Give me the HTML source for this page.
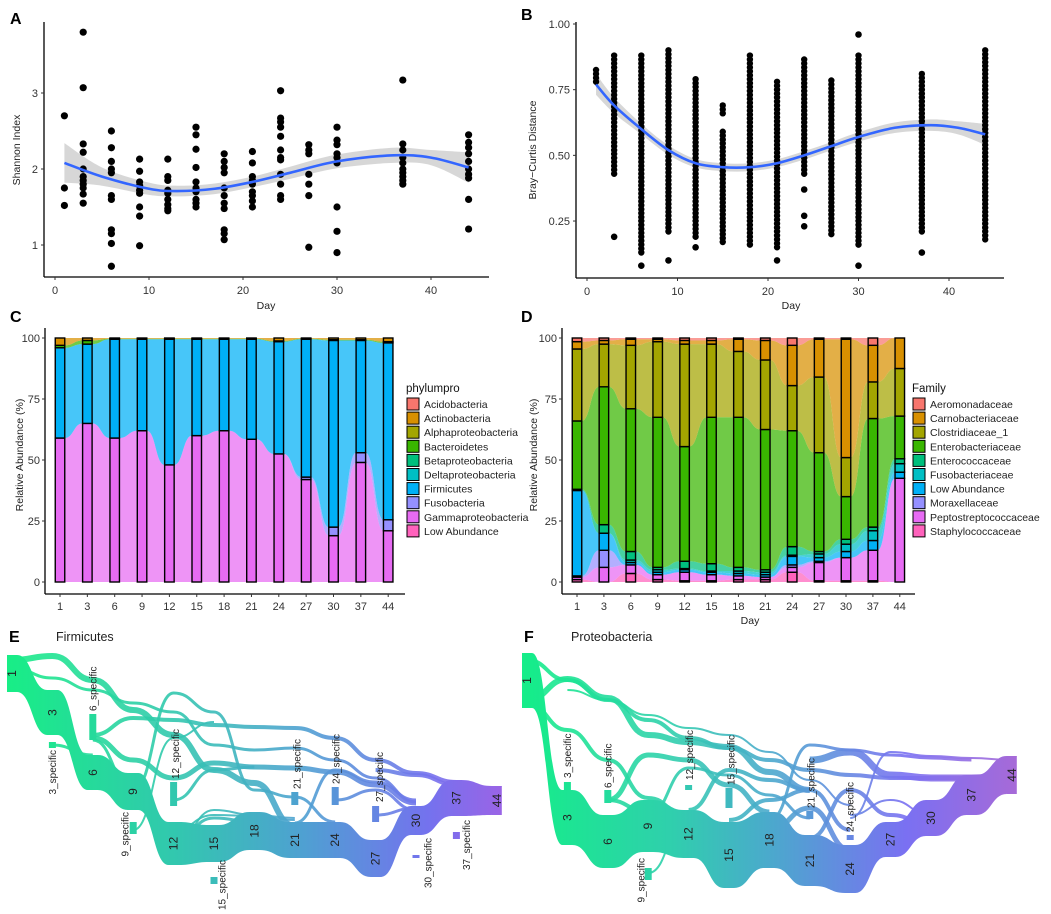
<!DOCTYPE html>
<html><head><meta charset="utf-8"><style>
html,body{margin:0;padding:0;background:#fff;}
svg{display:block;font-family:"Liberation Sans",sans-serif;}
</style></head><body>
<svg id="fig" width="1051" height="914" viewBox="0 0 1051 914" xmlns="http://www.w3.org/2000/svg">
<defs>
<linearGradient id="gE" gradientUnits="userSpaceOnUse" x1="7" y1="0" x2="502" y2="0">
<stop offset="0" stop-color="#18ee86"/><stop offset="0.35" stop-color="#33c6b0"/><stop offset="0.6" stop-color="#4fa0d2"/><stop offset="0.85" stop-color="#7472ee"/><stop offset="1" stop-color="#9a64e6"/></linearGradient>
<linearGradient id="gF" gradientUnits="userSpaceOnUse" x1="520" y1="0" x2="1015" y2="0">
<stop offset="0" stop-color="#14ee88"/><stop offset="0.3" stop-color="#2fd0ac"/><stop offset="0.5" stop-color="#4aaacc"/><stop offset="0.78" stop-color="#7a70f2"/><stop offset="1" stop-color="#a66ad8"/></linearGradient>
</defs>
<g id="pA"></g>
<g id="pB"></g>
<g id="pC"></g>
<g id="pD"></g>
<g id="pE"></g>
<g id="pF"></g>
</svg>
<script>
// ---------- DATA ----------
const daysA=[1,3,6,9,12,15,18,21,24,27,30,37,44];
const shannonVals=[
[2.7,1.75,1.52],
[3.8,3.07,2.33,2.22,2.0,1.9,1.85,1.8,1.75,1.67,1.55],
[2.5,2.28,2.1,2.0,1.95,1.65,1.6,1.2,1.15,1.02,0.72],
[2.13,1.97,1.83,1.78,1.72,1.68,1.5,1.38,0.99],
[2.13,1.9,1.85,1.72,1.68,1.6,1.53,1.48,1.45],
[2.55,2.45,2.26,2.02,1.83,1.75,1.7,1.6,1.55,1.5],
[2.2,2.1,2.02,1.95,1.75,1.65,1.55,1.48,1.2,1.15,1.07],
[2.23,2.08,1.9,1.85,1.8,1.7,1.65,1.58,1.5],
[3.03,2.67,2.62,2.55,2.43,2.25,2.15,2.12,1.93,1.8,1.65,1.6],
[2.32,2.25,2.2,1.93,1.8,1.65,0.97],
[2.55,2.38,2.32,2.2,2.15,2.08,1.5,1.18,0.9],
[3.17,2.33,2.25,2.15,2.08,2.0,1.95,1.9,1.85,1.8],
[2.45,2.35,2.28,2.2,2.1,2.0,1.93,1.88,1.6,1.21]];
const shannonFitDays=[1,5,10,13,17,21,25,30,36,40,44];
const shannonFit=[2.08,1.9,1.74,1.71,1.74,1.83,1.95,2.1,2.18,2.15,2.02];
const shannonSE=[0.26,0.12,0.08,0.07,0.07,0.07,0.08,0.09,0.1,0.1,0.2];
const shannonTicks=[1,2,3];
const dayTicks=[0,10,20,30,40];
const brayRuns=[[[0.78,0.83]],[[0.43,0.89]],[[0.13,0.88]],[[0.21,0.9]],[[0.19,0.8]],[[0.17,0.6],[0.66,0.69]],[[0.16,0.89]],[[0.15,0.78]],[[0.43,0.87]],[[0.2,0.79]],[[0.16,0.89]],[[0.21,0.82]],[[0.18,0.9]]];
const brayOut=[[],[0.19],[0.08],[0.1],[0.15],[],[],[0.1],[0.23,0.27,0.37],[],[0.08,0.96],[0.13],[]];
const brayFitDays=[1,3,6,9,12,15,18,21,24,27,30,34,38,41,44];
const brayFit=[0.77,0.69,0.6,0.52,0.47,0.455,0.455,0.47,0.5,0.535,0.57,0.605,0.615,0.605,0.58];
const braySE=[0.04,0.03,0.02,0.018,0.016,0.015,0.015,0.015,0.016,0.016,0.018,0.02,0.022,0.025,0.04];
const brayTicks=[0.25,0.5,0.75,1.0];
const catDays=["1","3","6","9","12","15","18","21","24","27","30","37","44"];
const phylaNames=["Acidobacteria","Actinobacteria","Alphaproteobacteria","Bacteroidetes","Betaproteobacteria","Deltaproteobacteria","Firmicutes","Fusobacteria","Gammaproteobacteria","Low Abundance"];
const phylaColors=["#f8766d","#d89000","#a3a500","#39b600","#00bf7d","#00bfc4","#00b0f6","#9590ff","#e76bf3","#ff62bc"];
const cLow=[0,0,0,0,0,0,0,0,0,0,0,0,0];
const cGamma=[59,65,59,62,48,60,62,58.5,52.5,42,19,49,21];
const cFuso=[0,0,0,0,0,0,0,0,0,1,3.5,4,4.5];
const cFirm=[37,32.5,40.5,37.5,51.5,39.5,37.5,41,46,56.5,76.5,46,72.5];
const cDelta=[0,0,0,0,0,0,0,0,0,0,0,0,0];
const cBeta=[0,0,0,0,0,0,0,0,0,0,0,0,0];
const cBacter=[1,1.5,0.2,0.2,0.2,0.2,0.2,0.2,0.3,0.2,0.3,0.3,0.5];
const cAlpha=[0,0,0,0,0,0,0,0,0,0,0,0,0];
const cActino=[3,1,0.3,0.3,0.3,0.3,0.3,0.3,1.2,0.3,0.7,0.7,1.5];
const cAcido=[0,0,0,0,0,0,0,0,0,0,0,0,0];
const pctTicks=[0,25,50,75,100];
const famNames=["Aeromonadaceae","Carnobacteriaceae","Clostridiaceae_1","Enterobacteriaceae","Enterococcaceae","Fusobacteriaceae","Low Abundance","Moraxellaceae","Peptostreptococcaceae","Staphylococcaceae"];
const famColors=["#f8766d","#d89000","#a3a500","#39b600","#00bf7d","#00bfc4","#00b0f6","#9590ff","#e76bf3","#ff62bc"];
const dStaph=[1,0,3.5,1,0.5,0.5,1,1,4,0.5,0.5,0.5,0];
const dPepto=[1,6,3.5,2,3.5,2.5,1.5,1,2,7.5,9.5,12.5,42.5];
const dMorax=[0.5,7,0,0,0,0,0,0,1,0.5,0,0,0];
const dLow=[35,7,1,1,1,1,1,1,3.5,1.5,2.5,4,2.5];
const dFuso=[0,0,1,1,0.5,0.5,1,1,0.5,1.5,3,4,3.5];
const dEntc=[0.5,3.5,3.5,1,3,3,1.5,1,3.5,1,2,1.5,2];
const dEntb=[28,56.5,58.5,61.5,47,60,61.5,57.5,47.5,40.5,17.5,44.5,17.5];
const dClost=[29.5,17.5,26,31,42,30,27,28.5,18.5,31,16,15,19.5];
const dCarno=[3,1.5,2.5,1,1.5,1.5,5,8,16.5,15.5,48.5,15,12.5];
const dAero=[1.5,1,0.5,0.5,1,1,0.5,1,3,0.5,0.5,3,0];
const eMain=[[0,655,692],[1,690,735],[2,755,790],[3,773,810],[4,822,865],[5,825,862],[6,812,850],[7,822,858],[8,822,858],[9,840,877],[10,806,835],[11,780,816],[12,786,815]];
const fMain=[[0,653,708],[1,790,845],[2,815,868],[3,800,852],[4,810,858],[5,822,888],[6,812,868],[7,835,886],[8,845,893],[9,822,857],[10,800,836],[11,775,815],[12,756,794]];
const eLinks=[
 {w:6,p:[[0,660],[1,656],[2,680],[3,710],[4,735],[5,770],[6,783],[7,826]]},
 {w:3,p:[[0,668],[1,678],[2,690],[3,703],[4,712],[5,745],[6,750],[7,748],[8,760],[9,778],[10,802]]},
 {w:4,p:[[2,735],[3,718],[4,720],[5,725],[6,727],[7,728],[8,738],[9,760],[10,773],[11,782]]},
 {w:5,p:[[2,738],[3,760],[4,778],[5,763],[6,767],[7,768],[8,772],[9,785],[10,803]]},
 {w:3,p:[[3,790],[4,693],[5,712],[6,790],[7,797],[8,822]]},
 {w:2,p:[[3,795],[4,830],[5,815],[6,816],[7,820]]},
 {w:3,p:[[1,745],[2,755]]},
 {w:3,p:[[2,740],[3,790]]},
 {w:2,p:[[3,830],[4,738],[5,722]]},
 {w:3,p:[[4,800],[5,770],[6,767]]},
 {w:3,p:[[7,823],[8,770],[9,782],[10,800]]},
 {w:3,p:[[8,800],[9,790],[10,810]]},
 {w:3,p:[[9,815],[10,808]]},
 {w:2,p:[[4,845],[5,810],[6,815],[7,818]]},
 {w:4,p:[[9,770],[10,775],[11,785],[12,790]]},
 {w:6,p:[[10,826],[11,790]]},
 {w:3,p:[[4,840],[5,818],[6,822]]}];
const fLinks=[
 {w:4,p:[[0,660],[1,680],[2,700],[3,720],[4,738],[5,748],[6,760],[7,770],[8,775],[9,778],[10,778],[11,778],[12,765]]},
 {w:6,p:[[0,700],[1,679],[2,698],[3,735],[4,742],[5,747],[6,772],[7,790]]},
 {w:4,p:[[0,703],[1,730],[2,760],[3,798],[4,818]]},
 {w:2,p:[[1,690],[2,700],[3,715],[4,728],[5,735],[6,752],[7,780],[8,805]]},
 {w:5,p:[[2,800],[3,755],[4,760],[5,785],[6,812]]},
 {w:3,p:[[3,815],[4,768],[5,775],[6,795],[7,818]]},
 {w:4,p:[[4,810],[5,770],[6,780],[7,790],[8,830]]},
 {w:3,p:[[6,820],[7,745],[8,750],[9,755],[10,758],[11,760]]},
 {w:7,p:[[7,760],[8,752],[9,775],[10,778],[11,778],[12,776]]},
 {w:2,p:[[8,818],[9,752],[10,756],[11,758],[12,760]]},
 {w:2,p:[[8,815],[9,800],[10,815],[11,805]]},
 {w:4,p:[[7,838],[8,790],[9,815],[10,825]]},
 {w:5,p:[[6,830],[7,808],[8,850]]},
 {w:4,p:[[5,820],[6,800],[7,790]]},
 {w:2,p:[[3,873],[4,815]]},
 {w:3,p:[[9,825],[10,810],[11,790]]},
 {w:5,p:[[1,795],[2,822]]},
 {w:4,p:[[2,800],[3,812]]}];
const eSpec=[["3_specific",1,742,748,"down",0,750],["6_specific",2,714,740,"up",0,711],["9_specific",3,822,834,"down",-8,812],["12_specific",4,782,806,"up",2,779],["15_specific",5,877,884,"down",8,860],["21_specific",7,792,805,"up",2,789],["24_specific",8,787,805,"up",1,784],["27_specific",9,806,822,"up",4,802],["30_specific",10,855,858,"down",12,838],["37_specific",11,832,839,"down",10,820]];
const fSpec=[["3_specific",1,782,802,"up",0,778],["6_specific",2,790,803,"up",0,788],["9_specific",3,868,880,"down",-7,858],["12_specific",4,785,790,"up",1,780],["15_specific",5,788,808,"up",2,785],["21_specific",7,811,819,"up",1,808],["24_specific",8,835,840,"up",0,832]];

const NS="http://www.w3.org/2000/svg";
function mk(parent,tag,attrs,text){const e=document.createElementNS(NS,tag);for(const k in attrs)e.setAttribute(k,attrs[k]);if(text!==undefined)e.textContent=text;parent.appendChild(e);return e;}
function catmull(pts){let d="M"+pts[0][0]+","+pts[0][1];for(let i=0;i<pts.length-1;i++){const p0=pts[i-1]||pts[i],p1=pts[i],p2=pts[i+1],p3=pts[i+2]||p2;const c1=[p1[0]+(p2[0]-p0[0])/6,p1[1]+(p2[1]-p0[1])/6],c2=[p2[0]-(p3[0]-p1[0])/6,p2[1]-(p3[1]-p1[1])/6];d+=` C${c1[0]},${c1[1]} ${c2[0]},${c2[1]} ${p2[0]},${p2[1]}`;}return d;}
function catmullCont(pts){return catmull(pts).replace(/^M/,"L");}
function txt(g,x,y,s,opt){opt=opt||{};const a={x:x,y:y,"font-size":opt.size||11,fill:opt.fill||"#222","text-anchor":opt.anchor||"middle"};if(opt.weight)a["font-weight"]=opt.weight;if(opt.rot!==undefined)a.transform=`rotate(${opt.rot} ${x} ${y})`;return mk(g,"text",a,s);}

(function(){
const g=document.getElementById("pA");
const X=d=>55+d*9.4, Y=v=>245-(v-1)*76;
const lbl=txt(g,10,24,"A",{size:16,weight:"bold",anchor:"start",fill:"#000"});

const up=shannonFitDays.map((d,i)=>[X(d),Y(shannonFit[i]+shannonSE[i])]);
const lo=shannonFitDays.map((d,i)=>[X(d),Y(shannonFit[i]-shannonSE[i])]).reverse();
const band=mk(g,"path",{d:catmull(up)+" "+catmullCont(lo)+" Z",fill:"#bdbdbd","fill-opacity":0.6});

daysA.forEach((d,i)=>shannonVals[i].forEach(v=>{const c=mk(g,"circle",{cx:X(d),cy:Y(v),r:3.6,fill:"#000"});}));
const fit=mk(g,"path",{d:catmull(shannonFitDays.map((d,i)=>[X(d),Y(shannonFit[i])])),fill:"none",stroke:"#3366ff","stroke-width":2.6});

mk(g,"line",{x1:44,y1:22,x2:44,y2:277,stroke:"#000","stroke-width":1.3});
mk(g,"line",{x1:44,y1:277,x2:489,y2:277,stroke:"#000","stroke-width":1.3});
shannonTicks.forEach(t=>{mk(g,"line",{x1:41,x2:44,y1:Y(t),y2:Y(t),stroke:"#333"});txt(g,38,Y(t)+4,String(t),{anchor:"end",size:11,fill:"#333"});});
dayTicks.forEach(t=>{mk(g,"line",{x1:X(t),x2:X(t),y1:277,y2:280,stroke:"#333"});txt(g,X(t),294,String(t),{size:11,fill:"#333"});});
const xt=txt(g,266,309,"Day",{size:10.5});
const yt=txt(g,20,150,"Shannon Index",{size:10.5,rot:-90});
})();

(function(){
const g=document.getElementById("pB");
const X=d=>587+d*9.05, Y=v=>24+(1-v)*262.7;
txt(g,521,20,"B",{size:16,weight:"bold",anchor:"start",fill:"#000"});
const up=brayFitDays.map((d,i)=>[X(d),Y(brayFit[i]+braySE[i])]);
const lo=brayFitDays.map((d,i)=>[X(d),Y(brayFit[i]-braySE[i])]).reverse();
const band=mk(g,"path",{d:catmull(up)+" "+catmullCont(lo)+" Z",fill:"#bdbdbd","fill-opacity":0.6});

daysA.forEach((d,i)=>{
 brayRuns[i].forEach(r=>{for(let v=r[0];v<=r[1]+1e-9;v+=0.015){const c=mk(g,"circle",{cx:X(d),cy:Y(v),r:3.2,fill:"#000"});}});
 brayOut[i].forEach(v=>{const c=mk(g,"circle",{cx:X(d),cy:Y(v),r:3.3,fill:"#000"});});
});
const fit=mk(g,"path",{d:catmull(brayFitDays.map((d,i)=>[X(d),Y(brayFit[i])])),fill:"none",stroke:"#3366ff","stroke-width":2.6});

mk(g,"line",{x1:576,y1:22,x2:576,y2:278,stroke:"#000","stroke-width":1.3});
mk(g,"line",{x1:576,y1:278,x2:1004,y2:278,stroke:"#000","stroke-width":1.3});
brayTicks.forEach(t=>{mk(g,"line",{x1:573,x2:576,y1:Y(t),y2:Y(t),stroke:"#333"});txt(g,570,Y(t)+4,t.toFixed(2),{anchor:"end",size:11,fill:"#333"});});
dayTicks.forEach(t=>{mk(g,"line",{x1:X(t),x2:X(t),y1:278,y2:281,stroke:"#333"});txt(g,X(t),295,String(t),{size:11,fill:"#333"});});
txt(g,791,309,"Day",{size:10.5});
txt(g,536,150,"Bray\u2212Curtis Distance",{size:10.5,rot:-90});
})();

function stacked(g,layers,colors,X,Y,bw){
 const n=layers[0].length;
 let base=new Array(n).fill(0);const bounds=layers.map(L=>{const b=base.slice();const t=b.map((v,i)=>v+L[i]);base=t;return [b,t];});
 bounds.forEach(([b,t],li)=>{
  let d="M"+(X(0)-bw/2)+","+Y(t[0]);
  for(let i=0;i<n;i++){d+=` L${X(i)+bw/2},${Y(t[i])}`;if(i<n-1){const m=(X(i)+X(i+1))/2;d+=` C${m},${Y(t[i])} ${m},${Y(t[i+1])} ${X(i+1)-bw/2},${Y(t[i+1])}`;}}
  for(let i=n-1;i>=0;i--){d+=` L${X(i)-bw/2},${Y(b[i])}`;if(i>0){const m=(X(i)+X(i-1))/2;d+=` C${m},${Y(b[i])} ${m},${Y(b[i-1])} ${X(i-1)+bw/2},${Y(b[i-1])}`;}}
  d+=" Z";
  const a=mk(g,"path",{d:d,fill:colors[li],"fill-opacity":0.72,stroke:"none"});
  
 });
 for(let i=0;i<n;i++){bounds.forEach(([b,t],li)=>{if(t[i]-b[i]<=0)return;const r=mk(g,"rect",{x:X(i)-bw/2,y:Y(t[i]),width:bw,height:Y(b[i])-Y(t[i]),fill:colors[li],stroke:"#000","stroke-width":1.4});});}
}
function abAxes(g,x0,x1,X,Y){
 mk(g,"line",{x1:x0,y1:328,x2:x0,y2:594,stroke:"#000","stroke-width":1.3});
 mk(g,"line",{x1:x0,y1:594,x2:x1,y2:594,stroke:"#000","stroke-width":1.3});
 pctTicks.forEach(t=>{mk(g,"line",{x1:x0-3,x2:x0,y1:Y(t),y2:Y(t),stroke:"#333"});txt(g,x0-5,Y(t)+4,String(t),{anchor:"end",size:11,fill:"#333"});});
 catDays.forEach((d,i)=>{mk(g,"line",{x1:X(i),x2:X(i),y1:594,y2:597,stroke:"#333"});txt(g,X(i),610,d,{size:11,fill:"#333"});});
}
(function(){
 const g=document.getElementById("pC");
 const X=i=>60+i*27.35, Y=v=>582-v*2.44;
 txt(g,10,322,"C",{size:16,weight:"bold",anchor:"start",fill:"#000"});
 const layers=[cLow,cGamma,cFuso,cFirm,cDelta,cBeta,cBacter,cAlpha,cActino,cAcido];
 const cols=phylaColors.slice().reverse();
 stacked(g,layers,cols,X,Y,9.5);
 txt(g,406,392,"phylumpro",{anchor:"start",size:11.5,fill:"#111"});
 phylaNames.forEach((nm,i)=>{const y=398+i*14.1;const s=mk(g,"rect",{x:407,y:y,width:12,height:12,fill:phylaColors[i],stroke:"#000","stroke-width":1});const t=txt(g,424,y+10,nm,{anchor:"start",size:10.5});});
 abAxes(g,45,405,X,Y);
 txt(g,23,455,"Relative Abundance (%)",{size:10.5,rot:-90});
})();
(function(){
 const g=document.getElementById("pD");
 const X=i=>577+i*26.9, Y=v=>582-v*2.44;
 txt(g,521,322,"D",{size:16,weight:"bold",anchor:"start",fill:"#000"});
 const layers=[dStaph,dPepto,dMorax,dLow,dFuso,dEntc,dEntb,dClost,dCarno,dAero];
 const cols=famColors.slice().reverse();
 stacked(g,layers,cols,X,Y,9.5);
 txt(g,912,392,"Family",{anchor:"start",size:11.5,fill:"#111"});
 famNames.forEach((nm,i)=>{const y=398+i*14.1;const s=mk(g,"rect",{x:913,y:y,width:12,height:12,fill:famColors[i],stroke:"#000","stroke-width":1});const t=txt(g,930,y+10,nm,{anchor:"start",size:10.5});});
 abAxes(g,562,915,X,Y);
 txt(g,537,455,"Relative Abundance (%)",{size:10.5,rot:-90});
 txt(g,750,624,"Day",{size:10.5});
})();

function sankey(g,grad,x0,main,links,spec,letter,title){
 const X=i=>x0+i*40.4, hw=5;
 txt(g,X(0)-3,642,letter,{size:16,weight:"bold",anchor:"start",fill:"#000"});
 txt(g,X(0)+44,641,title,{size:12.5,anchor:"start",fill:"#222"});
 const fill=`url(#${grad})`;
 links.forEach(L=>{
  const pts=L.p.map(p=>[X(p[0]),p[1]]);
  let d="M"+(pts[0][0])+","+pts[0][1];
  for(let i=0;i<pts.length-1;i++){const a=pts[i],b=pts[i+1],m=(a[0]+b[0])/2;d+=` C${m},${a[1]} ${m},${b[1]} ${b[0]},${b[1]}`;}
  const p=mk(g,"path",{d:d,fill:"none",stroke:fill,"stroke-width":L.w,"stroke-opacity":0.9});
  
 });
 let d="M"+(X(main[0][0])-hw)+","+main[0][1];
 main.forEach((m,i)=>{d+=` L${X(m[0])+hw},${m[1]}`;if(i<main.length-1){const n=main[i+1],a=X(m[0])+hw,b=X(n[0])-hw,c=(a+b)/2;d+=` C${c},${m[1]} ${c},${n[1]} ${b},${n[1]}`;}});
 for(let i=main.length-1;i>=0;i--){const m=main[i];d+=` L${X(m[0])-hw},${m[2]}`;if(i>0){const n=main[i-1],a=X(m[0])-hw,b=X(n[0])+hw,c=(a+b)/2;d+=` C${c},${m[2]} ${c},${n[2]} ${b},${n[2]}`;}}
 const band=mk(g,"path",{d:d+" Z",fill:fill});
 
 main.forEach((m,i)=>{const r=mk(g,"rect",{x:X(m[0])-hw,y:m[1],width:hw*2,height:m[2]-m[1],fill:fill});
  const cy=(m[1]+m[2])/2;const t=txt(g,X(m[0])+4,cy,catDays[m[0]],{size:12,rot:-90,fill:"#222"});});
 spec.forEach(s=>{const x=X(s[1]);const r=mk(g,"rect",{x:x-3.5,y:s[2],width:7,height:s[3]-s[2],fill:fill});
  const tx=x+s[5]+3.5;const t=txt(g,tx,s[6],s[0],{size:10,rot:-90,anchor:s[4]==="up"?"start":"end",fill:"#222"});});
}
sankey(document.getElementById("pE"),"gE",12,eMain,eLinks,eSpec,"E","Firmicutes");
sankey(document.getElementById("pF"),"gF",527,fMain,fLinks,fSpec,"F","Proteobacteria");
</script>
</body></html>
